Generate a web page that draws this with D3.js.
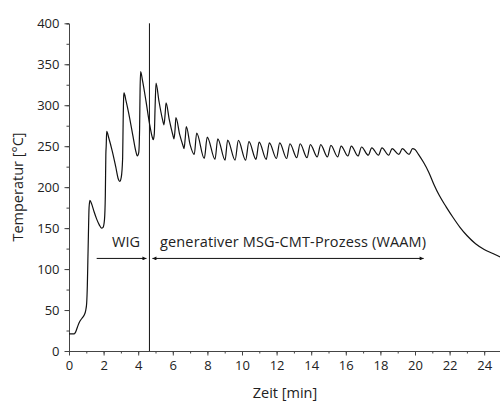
<!DOCTYPE html>
<html><head><meta charset="utf-8">
<script src="https://cdn.jsdelivr.net/npm/d3@7"></script>
<style>
body{margin:0;background:#fff;}
text{font-family:"Open Sans",sans-serif;fill:#222;}
</style></head>
<body><svg id="c" width="500" height="406"></svg>
<script>
// Data
const timeMin = [0,0.3,0.38,0.5,0.62,0.75,0.88,0.97,1.02,1.06,1.09,1.12,1.16,1.21,1.3,1.45,1.6,1.75,1.88,1.97,2.05,2.1,2.13,2.15,2.18,
 2.3,2.5,2.7,2.85,2.93,3.02,3.1,3.13,3.16,3.18,
 3.3,3.5,3.7,3.85,3.95,4.03,4.08,4.11,4.14,
 4.25,4.45,4.65,4.8,4.87,4.93,4.98,5.03,
 5.2,5.4,5.49,5.56,5.61,5.8,6.0,6.07,6.13,6.18,6.4,6.6,6.65,6.72,6.78,7.0,7.24,7.38,
 7.82,7.99,8.44,8.60,9.02,9.17,9.60,9.79,10.21,10.40,10.81,10.99,11.40,11.58,11.99,12.18,12.58,12.77,
 13.17,13.36,13.76,13.95,14.35,14.55,14.94,15.14,15.53,15.73,16.12,16.32,16.71,16.91,17.30,17.50,
 17.89,18.09,18.48,18.68,19.07,19.27,19.66,19.86,
 20.0,20.2,20.5,20.8,21.1,21.4,21.8,22.2,22.6,23.0,23.5,24.0,24.5,25.0];
const tempC = [21,21,23,30,36,40,44,50,58,80,110,140,175,184,180,170,161,154,150,151,160,190,240,250,268,
 260,244,225,210,207,212,235,280,310,315,
 305,285,262,245,238,242,270,320,341,
 330,305,278,262,258,265,300,327,
 305,283,276,290,303,282,264,259,270,285,264,250,247,260,274,252,240,266,
 235,261,234,259,233,257.5,233,257,233,255.5,234,255,234,254,235,254,235,253,
 236,253,236,252,237,252,237,251,237,250,238,250,238,249,239,248,
 239,248,239,247,240,247,240,247,
 246,240,230,218,203,190,176,163,151,141,131,124,119,114];
const xTicks = [0,2,4,6,8,10,12,14,16,18,20,22,24];
const yTicks = [0,50,100,150,200,250,300,350,400];
const wigEnd = 4.65;       // boundary between processes (min)
const arrowLevel = 113;     // temperature level of the arrows
const labels = ["WIG","generativer MSG-CMT-Prozess (WAAM)"];

const svg = d3.select("#c");
const x = d3.scaleLinear().domain([0,25]).range([69,501.5]);
const y = d3.scaleLinear().domain([0,400]).range([351,23.3]);

// axes
const gx = svg.append("g").attr("transform","translate(0,351)");
gx.call(d3.axisBottom(x).tickValues(d3.range(0,26,1)).tickSize(2.5).tickFormat(""));
const gx2 = svg.append("g").attr("transform","translate(0,351)")
  .call(d3.axisBottom(x).tickValues(xTicks).tickSize(4.5).tickPadding(5).tickFormat(d3.format("d")));
gx2.select(".domain").remove();
gx2.selectAll("text").attr("font-size","13px").attr("font-family","Open Sans").attr("fill","#222");

const gy = svg.append("g").attr("transform","translate(69,0)");
gy.call(d3.axisLeft(y).tickValues(d3.range(0,401,25)).tickSize(2.5).tickFormat(""));
const gy2 = svg.append("g").attr("transform","translate(69,0)")
  .call(d3.axisLeft(y).tickValues(yTicks).tickSize(4.5).tickPadding(5).tickFormat(d3.format("d")));
gy2.select(".domain").remove();
gy2.selectAll("text").attr("font-size","13px").attr("font-family","Open Sans").attr("fill","#222");
svg.selectAll(".domain,.tick line").attr("stroke","#444").attr("stroke-width",1);

// axis titles
svg.append("text").attr("x",285).attr("y",398).attr("text-anchor","middle").attr("font-size","14.5px").text("Zeit [min]");
svg.append("text").attr("transform","translate(23,187) rotate(-90)").attr("text-anchor","middle").attr("font-size","14.5px").text("Temperatur [°C]");

// curve
const data = timeMin.map((t,i)=>[t,tempC[i]]);
svg.append("path").datum(data)
  .attr("fill","none").attr("stroke","#111").attr("stroke-width",1.2)
  .attr("d", d3.line().x(d=>x(d[0])).y(d=>y(d[1])).curve(d3.curveMonotoneX));

// vertical boundary line
svg.append("line").attr("x1",x(wigEnd)).attr("x2",x(wigEnd)).attr("y1",y(400)).attr("y2",y(0))
  .attr("stroke","#111").attr("stroke-width",1);

// arrows
const defs = svg.append("defs");
defs.append("marker").attr("id","ah").attr("viewBox","0 0 10 10").attr("refX",10).attr("refY",5)
  .attr("markerWidth",5).attr("markerHeight",4).attr("markerUnits","userSpaceOnUse").attr("orient","auto-start-reverse")
  .append("path").attr("d","M0,0L10,5L0,10z").attr("fill","#111");
const ay = y(arrowLevel);
svg.append("line").attr("x1",x(1.6)).attr("x2",x(wigEnd)-3).attr("y1",ay).attr("y2",ay)
  .attr("stroke","#111").attr("stroke-width",1).attr("marker-end","url(#ah)");
svg.append("line").attr("x1",x(wigEnd)+3).attr("x2",x(20.5)).attr("y1",ay).attr("y2",ay)
  .attr("stroke","#111").attr("stroke-width",1).attr("marker-start","url(#ah)").attr("marker-end","url(#ah)");

svg.append("text").attr("x",126).attr("y",247).attr("text-anchor","middle").attr("font-size","14.5px").text(labels[0]);
svg.append("text").attr("x",160).attr("y",247).attr("font-size","14.5px").attr("textLength",266).attr("lengthAdjust","spacing").text(labels[1]);
</script></body></html>
